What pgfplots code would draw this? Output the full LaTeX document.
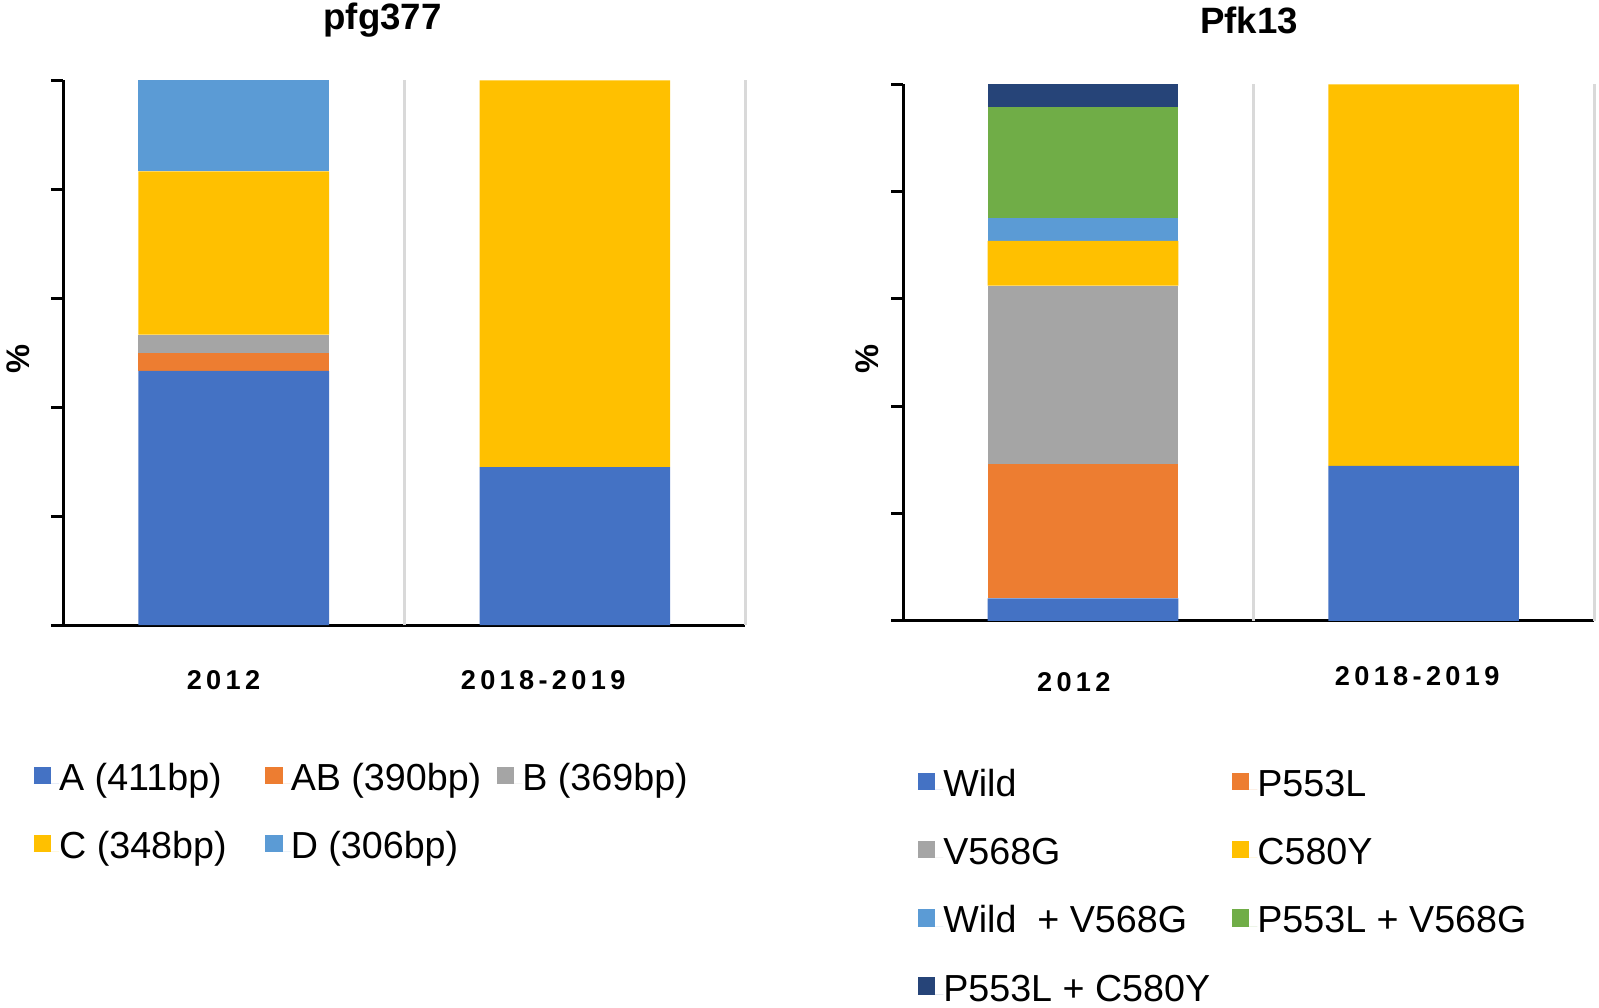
\documentclass[border=0pt]{standalone}
\usepackage{fontspec}
\setmainfont{Liberation Sans}
\setsansfont{Liberation Sans}
\usepackage{pgfplots}
\pgfplotsset{compat=1.18}

\definecolor{cA}{HTML}{4472C4}
\definecolor{cB}{HTML}{ED7D31}
\definecolor{cC}{HTML}{A5A5A5}
\definecolor{cD}{HTML}{FFC000}
\definecolor{cE}{HTML}{5B9BD5}
\definecolor{cF}{HTML}{70AD47}
\definecolor{cG}{HTML}{264478}

% legend text in a fixed-width box so columns have a constant stride
\newcommand\lentry[2]{\makebox[#1][l]{\strut #2}}

\pgfplotsset{
  panel/.style={
    scale only axis, anchor=south west,
    xmin=-0.5, xmax=1.5, ymin=0, ymax=100,
    enlargelimits=false,
    ybar stacked, bar width=57.2pt,
    axis x line*=bottom, axis y line*=left,
    axis line style={line width=0.9pt, -},
    ytick={0,20,...,100}, yticklabels={},
    tick align=outside, major tick length=3.7pt,
    ytick style={line width=0.9pt, black},
    xtick style={draw=none},
    extra x ticks={0.5,1.5}, extra x tick labels={},
    extra x tick style={grid=major, major tick length=0pt},
    major grid style={line width=0.9pt, black!15},
    xticklabel style={font=\bfseries\fontsize{8.15}{10}\selectfont, anchor=base, yshift=-15.6pt},
    title style={font=\bfseries\fontsize{11}{13}\selectfont, anchor=base, yshift=9.2pt},
    ylabel={\%},
    ylabel style={font=\bfseries\fontsize{9.8}{12}\selectfont, anchor=center},
    legend style={draw=none, fill=none, inner sep=0pt, outer sep=0pt,
      row sep=9.45pt, column sep=0pt,
      font=\fontsize{11.3}{13.6}\selectfont,
      nodes={inner sep=0pt, anchor=base west}, anchor=north west},
    legend image code/.code={
      \fill[#1, draw=none] (0pt,1.9pt) rectangle (5.2pt,7.1pt);
      \path (0pt,2pt) -- (7.65pt,2pt);
    },
  }
}

\begin{document}
\begin{tikzpicture}
\path[use as bounding box] (0pt,0pt) rectangle (479.8pt,302.3pt);

\begin{axis}[panel,
  at={(18.97pt,114.75pt)}, width=204.7pt, height=163.4pt,
  title={pfg377},
  title style={at={(axis description cs:0.468,1)}},
  ylabel style={at={(axis description cs:-0.066,0.489)}},
  xtick={-0.03,0.907},
  xticklabels={{2\kern1.3pt0\kern1.3pt1\kern1.3pt2},
               {2\kern1.3pt0\kern1.3pt1\kern1.3pt8\kern1.3pt-\kern1.3pt2\kern1.3pt0\kern1.3pt1\kern1.3pt9}},
  legend columns=3,
  legend style={at={(axis description cs:-0.0433,-0.245)}},
]
\addplot[fill=cA, draw=none] coordinates {(0,46.67) (1,29)};
\addplot[fill=cB, draw=none] coordinates {(0,3.33) (1,0)};
\addplot[fill=cC, draw=none] coordinates {(0,3.33) (1,0)};
\addplot[fill=cD, draw=none] coordinates {(0,30) (1,71)};
\addplot[fill=cE, draw=none] coordinates {(0,16.67) (1,0)};
\legend{\lentry{61.85pt}{A (411bp)}, \lentry{61.85pt}{AB (390bp)},
        \lentry{61.85pt}{B (369bp)}, \lentry{61.85pt}{C (348bp)},
        \lentry{61.85pt}{D (306bp)}}
\end{axis}

\begin{axis}[panel,
  at={(271.1pt,116.0pt)}, width=207.2pt, height=161.0pt,
  xmin=-0.527,
  title={Pfk13},
  title style={at={(axis description cs:0.5007,1)}},
  ylabel style={at={(axis description cs:-0.052,0.489)}},
  xtick={-0.027,0.981},
  xticklabels={{\raisebox{-1.8pt}{2\kern1.3pt0\kern1.3pt1\kern1.3pt2}},
               {2\kern1.3pt0\kern1.3pt1\kern1.3pt8\kern1.3pt-\kern1.3pt2\kern1.3pt0\kern1.3pt1\kern1.3pt9}},
  legend columns=2,
  legend style={at={(axis description cs:0.0207,-0.268)}},
]
\addplot[fill=cA, draw=none] coordinates {(0,4.17) (1,28.9)};
\addplot[fill=cB, draw=none] coordinates {(0,25) (1,0)};
\addplot[fill=cC, draw=none] coordinates {(0,33.33) (1,0)};
\addplot[fill=cD, draw=none] coordinates {(0,8.33) (1,71.1)};
\addplot[fill=cE, draw=none] coordinates {(0,4.17) (1,0)};
\addplot[fill=cF, draw=none] coordinates {(0,20.83) (1,0)};
\addplot[fill=cG, draw=none] coordinates {(0,4.17) (1,0)};
\legend{\lentry{86.6pt}{Wild}, \lentry{86.6pt}{P553L},
        \lentry{86.6pt}{V568G}, \lentry{86.6pt}{C580Y},
        \lentry{86.6pt}{Wild~~+ V568G}, \lentry{86.6pt}{P553L + V568G},
        \lentry{86.6pt}{P553L + C580Y}}
\end{axis}
\end{tikzpicture}
\end{document}
